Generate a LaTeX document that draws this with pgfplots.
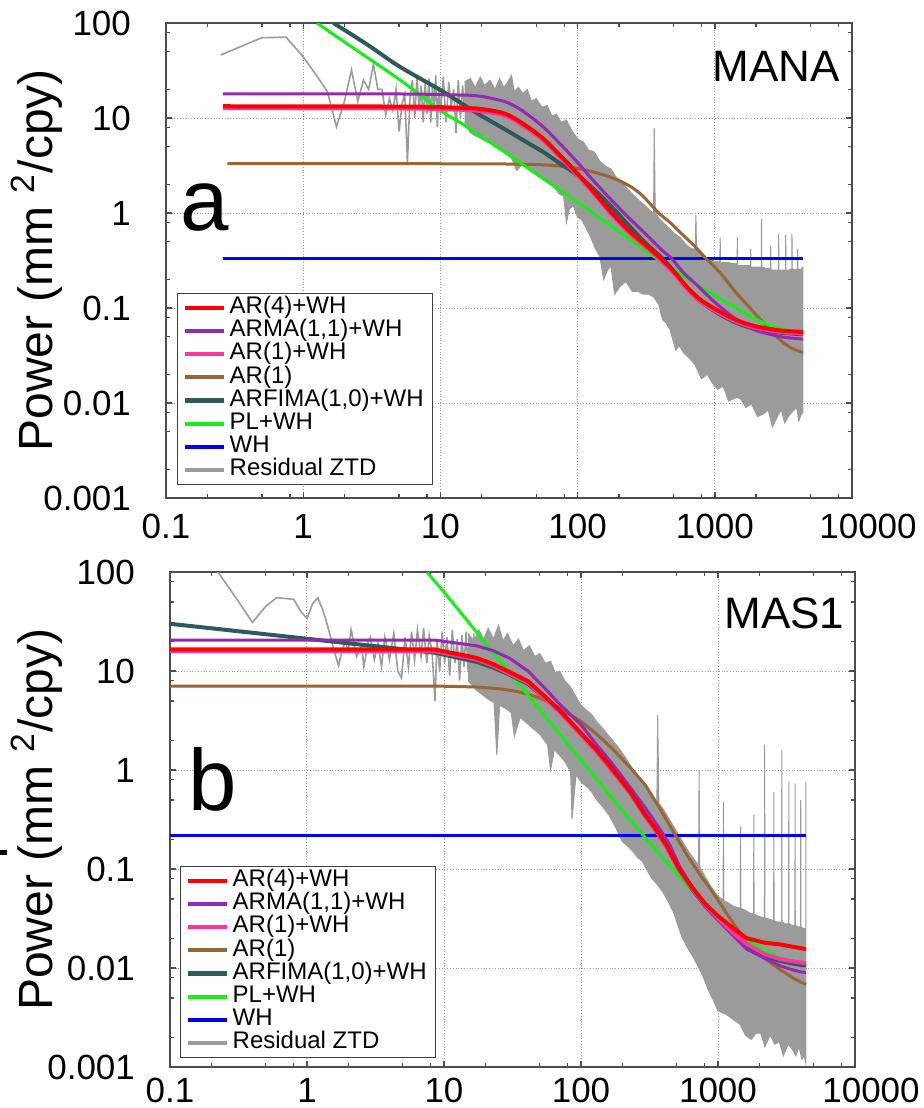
\documentclass[border=0pt]{standalone}
\usepackage{pgfplots}
\pgfplotsset{compat=1.18}
\usepackage{fontspec}
\setmainfont{Liberation Sans}
\definecolor{cRed}{RGB}{255,0,0}
\definecolor{cPurple}{RGB}{150,40,180}
\definecolor{cPink}{RGB}{255,55,155}
\definecolor{cBrown}{RGB}{153,102,51}
\definecolor{cSlate}{RGB}{47,90,90}
\definecolor{cGreen}{RGB}{20,240,20}
\definecolor{cBlue}{RGB}{0,0,240}
\definecolor{cGray}{RGB}{155,155,155}
\pgfplotsset{
  every axis/.append style={
    scale only axis,
    xmin=0.1, xmax=10000, ymin=0.001, ymax=100,
    xtick={0.1,1,10,100,1000,10000},
    xticklabels={0.1,1,10,100,1000,\hspace*{16pt}10000},
    ytick={0.001,0.01,0.1,1,10,100},
    yticklabels={0.001,0.01,0.1,1,10,100},
    minor xtick={0.2,0.5,0.8,2,5,8,20,50,80,200,500,800,2000,5000,8000},
    minor ytick={0.002,0.005,0.008,0.02,0.05,0.08,0.2,0.5,0.8,2,5,8,20,50,80},
    tick align=inside,
    major tick length=3.2pt, minor tick length=2pt,
    tick style={black!70, line width=0.7pt},
    axis line style={black!70, line width=1pt},
    grid=major,
    major grid style={densely dotted, black!40, line width=0.5pt},
    tick label style={font=\fontsize{17.5}{20}\selectfont},
    yticklabel style={xshift=-14pt},
    ylabel={Power (mm \textsuperscript{2}/cpy)},
    ylabel style={font=\fontsize{24}{28}\selectfont, anchor=base},
    legend cell align=left,
    legend image code/.code={\draw[#1, line width=2.1pt] (0pt,0pt) -- (19.5pt,0pt);},
    legend style={draw=black!75, line width=0.5pt, fill=white,
      inner xsep=2.5pt, inner ysep=1.5pt,
      font=\fontsize{12}{12.5}\selectfont,
      nodes={inner xsep=2pt, inner ysep=0.8pt, text height=7.9pt, text depth=2.1pt},
      row sep=0pt},
  },
}
\newcommand{\legendset}{%
  \addlegendimage{cRed}\addlegendentry{AR(4)+WH}
  \addlegendimage{cPurple}\addlegendentry{ARMA(1,1)+WH}
  \addlegendimage{cPink}\addlegendentry{AR(1)+WH}
  \addlegendimage{cBrown}\addlegendentry{AR(1)}
  \addlegendimage{cSlate}\addlegendentry{ARFIMA(1,0)+WH}
  \addlegendimage{cGreen}\addlegendentry{PL+WH}
  \addlegendimage{cBlue}\addlegendentry{WH}
  \addlegendimage{cGray}\addlegendentry{Residual ZTD}
}
\begin{document}
\begin{tikzpicture}
\useasboundingbox (0pt,0pt) rectangle (462pt,-554pt);
% ---------------- panel a : MANA ----------------
\begin{loglogaxis}[at={(83pt,-11.5pt)}, anchor=north west,
  width=343pt, height=237.5pt,
  xticklabel style={yshift=-4.5pt},
  ylabel style={at={(axis description cs:-0.165,0.5)}},
  legend style={at={(axis description cs:0.016,0.027)}, anchor=south west}]
\legendset
\addplot[cGray, line width=0.8pt, forget plot] coordinates {
(0.25,46)(0.5,70)(0.75,71)(1,44)(1.25,28)(1.5,19)(1.75,8.1)(2,15)(2.25,32)(2.5,15)
(2.75,25)(3,20)(3.25,37)(3.5,20)(3.75,20)(4,10.8)(4.25,16)(4.5,12)(4.75,20)(5,7.2)
(5.25,14)(5.5,18)(5.75,3.45)(6,16)(6.25,25)(6.5,10)(6.75,28)(7,12)(7.25,22)(7.5,9)
(7.75,24)(8,11)(8.25,26)(8.5,9)(8.75,22)(9,13)(9.25,28)(9.5,8)(9.75,20)(10,11)
(10.5,27)(11,9)(11.5,24)(12,13)(12.5,20)(13,7)(13.5,25)(14,10)(14.5,22)(15,12)
(15.5,24)(16,9)(16.5,23)(17,12)(17.5,21)};
\addplot[cGray, fill=cGray, line width=0.5pt, forget plot] coordinates {
(15,24)(16.5,26)(18,21)(19.5,27)(21,22)(23,25)(25,20)(27,26)(29,21)(31,24)(33,28)(34.5,19)
(37,21)(40,18)(43,20)(46,15)(50,16)(55,13)(60,13.5)(65,10.5)(70,11)(76,9)(83,9.5)(90,7.5)
(100,6)(110,5.6)(120,4.6)(132,4.4)(145,3.5)(160,3.1)(175,2.9)(190,2.4)(210,2.1)(230,1.8)
(255,1.55)(280,1.35)(310,1.2)(340,1.05)(358,1.0)(362,7.8)(368,1.0)(400,0.85)(450,0.72)
(500,0.62)(560,0.55)(620,0.46)(680,0.42)(722,0.42)(728,0.95)(736,0.4)(800,0.36)(900,0.33)
(1000,0.31)(1088,0.31)(1094,0.55)(1102,0.3)(1250,0.3)(1454,0.29)(1460,0.55)(1468,0.28)
(1700,0.28)(1820,0.28)(1826,0.42)(1834,0.27)(2000,0.27)(2184,0.27)(2190,0.87)(2200,0.27)
(2400,0.26)(2550,0.26)(2556,0.45)(2566,0.25)(2750,0.25)(2915,0.25)(2921,0.6)(2932,0.25)
(3100,0.25)(3280,0.25)(3286,0.59)(3298,0.25)(3450,0.25)(3645,0.26)(3652,0.6)(3665,0.26)
(3850,0.25)(4010,0.26)(4017,0.42)(4030,0.26)(4200,0.25)(4383,0.27)
(4383,0.008)(4250,0.0075)(4100,0.0065)(3950,0.009)(3800,0.0085)(3500,0.0075)(3230,0.0062)
(3050,0.0085)(2900,0.0075)(2630,0.0056)(2450,0.0085)(2300,0.0078)(2050,0.0072)(1850,0.0098)
(1680,0.009)(1550,0.011)(1450,0.0115)(1260,0.0105)(1150,0.015)(1050,0.014)(980,0.0155)
(880,0.02)(800,0.018)(720,0.025)(650,0.03)(600,0.033)(550,0.04)(520,0.036)(470,0.06)
(440,0.07)(417,0.075)(390,0.11)(359,0.13)(330,0.14)(300,0.14)(275,0.15)(250,0.15)
(225,0.19)(205,0.17)(186,0.14)(175,0.28)(165,0.25)(155,0.2)(145,0.35)(135,0.42)(125,0.55)
(115,0.7)(107,0.85)(100,0.9)(93,1.2)(87,1.1)(83,0.8)(79,1.5)(73,1.6)(67,1.9)(62,2.1)
(56,2.4)(50,2.6)(45,3.0)(40,3.3)(36,2.8)(33,3.8)(30,4.2)(27,4.8)(24,5.3)(21,5.8)(18,6.5)
(16.5,7)(15,9)};
\addplot[cBlue, line width=1.5pt, forget plot] coordinates {(0.26,0.336)(4383,0.336)};
\addplot[cBrown, line width=1.5pt, smooth, forget plot] coordinates {
(0.28,3.3)(10,3.3)(30,3.28)(60,3.2)(100,2.95)(150,2.55)(200,2.2)(250,1.85)(300,1.5)
(390,1.0)(470,0.8)(556,0.63)(700,0.46)(850,0.34)(1000,0.27)(1200,0.2)(1400,0.15)
(1700,0.11)(2000,0.085)(2500,0.06)(3000,0.046)(3600,0.038)(4383,0.034)};
\addplot[cGreen, line width=1.5pt, smooth, forget plot] coordinates {
(1.26,100)(2,63)(5,25.5)(10,12)(14,8.9)(20,6.3)(30,4.3)(41,3.15)(60,2.15)(100,1.3)
(178,0.72)(260,0.49)(372,0.336)(500,0.255)(740,0.175)(1000,0.135)(1740,0.085)
(2500,0.066)(4383,0.052)};
\addplot[cSlate, line width=2pt, smooth, forget plot] coordinates {
(1.66,100)(3,58)(5,35)(10,19.7)(14,14.5)(20,10.5)(31,7.3)(45,5.3)(56,4.4)(75,3.3)
(100,2.5)(130,1.8)(178,1.15)(240,0.72)(314,0.48)(417,0.33)(520,0.23)(630,0.16)
(800,0.115)(1130,0.083)(1500,0.068)(2000,0.06)(3000,0.055)(4383,0.053)};
\addplot[cPurple, line width=1.5pt, smooth, forget plot] coordinates {
(0.26,17.9)(5,17.9)(10,17.6)(18,17.2)(25,15.8)(31,14.5)(40,11.8)(56,8.1)(75,5.3)
(100,3.4)(130,2.2)(178,1.35)(240,0.87)(314,0.6)(417,0.4)(480,0.336)(600,0.23)
(740,0.175)(1000,0.115)(1500,0.072)(2000,0.058)(3000,0.05)(4383,0.047)};
\addplot[cPink, line width=2pt, smooth, forget plot] coordinates {
(0.26,12.7)(5,12.6)(10,12.4)(18,12.0)(25,11.2)(31,10.3)(40,8.3)(56,5.85)(75,3.85)
(100,2.5)(130,1.63)(178,0.96)(240,0.61)(314,0.44)(417,0.305)(520,0.22)(630,0.158)
(800,0.115)(1130,0.085)(1500,0.07)(2000,0.062)(3000,0.056)(4383,0.054)};
\addplot[cRed, line width=2pt, smooth, forget plot] coordinates {
(0.26,13.3)(5,13.2)(10,13.0)(18,12.6)(25,11.8)(31,10.8)(40,8.7)(56,6.1)(75,4.0)
(100,2.6)(130,1.7)(178,1.0)(240,0.64)(314,0.46)(417,0.32)(520,0.23)(630,0.165)
(800,0.12)(1130,0.089)(1500,0.073)(2000,0.064)(3000,0.058)(4383,0.056)};
\node[anchor=base west, inner sep=0pt, font=\fontsize{43.5}{50}\selectfont] at (axis description cs:0.0204,0.564) {a};
\node[anchor=base east, inner sep=0pt, font=\fontsize{22}{26}\selectfont] at (axis description cs:0.9825,0.876) {MANA};
\end{loglogaxis}
% ---------------- panel b : MAS1 ----------------
\begin{loglogaxis}[at={(85pt,-286pt)}, anchor=north west,
  width=342.5pt, height=247.5pt,
  xticklabel style={yshift=-2pt},
  ylabel style={at={(axis description cs:-0.171,0.5)}},
  legend style={at={(axis description cs:0.0146,0.018)}, anchor=south west}]
\legendset
\addplot[cGray, line width=0.8pt, forget plot] coordinates {
(0.1,500)(0.2,125)(0.3,56)(0.4,31)(0.5,45)(0.6,55)(0.7,54)(0.8,53)(0.9,40)(1,34)
(1.1,48)(1.2,55)(1.3,42)(1.4,30)(1.5,21)(1.6,15)(1.7,11.3)(1.8,16)(1.9,20)(2.0,16)
(2.1,26)(2.3,14)(2.5,18)(2.6,11)(2.8,20)(2.9,22)(3.1,13)(3.3,19)(3.5,11)(3.7,22)
(4.0,13)(4.3,24)(4.6,10)(4.9,8.5)(5.2,22)(5.5,11)(5.8,25)(6.1,13)(6.4,26)(6.8,14)
(7.1,27)(7.5,12)(7.8,23)(8.2,15)(8.6,5.0)(8.9,21)(9.3,10)(9.7,25)(10.1,12)(10.5,22)
(11,9)(11.5,26)(12,12)(12.5,21)(13,8)(13.5,23)(14,11)(14.5,25)(15,10)(15.5,22)(16,13)
(16.5,24)(17,9)(17.5,21)};
\addplot[cGray, fill=cGray, line width=0.5pt, forget plot] coordinates {
(15,24)(16.5,20)(18,26)(19.5,21)(21,27)(23,21)(25,29)(27,20)(29,24)(32,18)(35,21)(38,16)
(42,18)(46,14)(50,15)(55,12)(60,12.5)(65,9.5)(70,10)(76,8)(83,7)(90,5.8)(100,4.5)
(110,4.0)(120,3.6)(132,3.0)(145,2.6)(160,2.2)(175,1.9)(190,1.65)(210,1.35)(230,1.1)
(255,0.9)(280,0.75)(310,0.6)(340,0.52)(358,0.48)(363,3.6)(370,0.46)(400,0.4)(440,0.32)
(490,0.25)(550,0.19)(610,0.15)(670,0.125)(722,0.11)(728,1.0)(736,0.105)(800,0.085)
(880,0.068)(950,0.058)(1020,0.052)(1090,0.049)(1095,0.48)(1102,0.048)(1200,0.045)
(1300,0.042)(1455,0.04)(1461,0.27)(1470,0.04)(1600,0.038)(1700,0.036)(1820,0.035)
(1826,0.35)(1834,0.035)(2000,0.033)(2184,0.032)(2190,1.8)(2200,0.032)(2400,0.031)
(2550,0.03)(2556,0.6)(2566,0.03)(2750,0.029)(2915,0.029)(2921,1.6)(2932,0.029)
(3100,0.028)(3280,0.028)(3286,0.76)(3298,0.028)(3450,0.027)(3645,0.027)(3652,0.73)
(3665,0.027)(3850,0.026)(4010,0.026)(4017,0.5)(4030,0.026)(4200,0.025)(4376,0.025)(4383,0.76)
(4383,0.0011)(4250,0.0013)(4100,0.0012)(3900,0.0016)(3700,0.0013)(3500,0.0015)
(3250,0.0017)(3000,0.0013)(2800,0.0018)(2600,0.0017)(2400,0.0021)(2200,0.0016)
(2050,0.0022)(1900,0.0022)(1750,0.0019)(1585,0.0021)(1450,0.0027)(1300,0.003)
(1150,0.0034)(1000,0.0037)(920,0.0048)(850,0.006)(770,0.0085)(700,0.011)(668,0.0125)
(600,0.016)(550,0.02)(510,0.027)(480,0.035)(440,0.045)(398,0.058)(360,0.07)(330,0.08)
(300,0.1)(280,0.12)(260,0.13)(240,0.15)(220,0.17)(200,0.19)(180,0.26)(160,0.35)
(145,0.42)(130,0.5)(120,0.6)(110,0.68)(100,0.76)(92,0.9)(86,0.32)(84,0.95)(77,1.2)
(70,1.4)(64,1.6)(60,1.0)(57,1.8)(50,2.3)(45,2.6)(40,3.0)(36,3.4)(32.6,2.2)(31,3.8)
(28,4.2)(25.5,4.5)(24.3,1.42)(23.2,4.8)(21,5.2)(19,5.8)(17,6.5)(15,8)};
\addplot[cBlue, line width=1.5pt, forget plot] coordinates {(0.1,0.22)(4383,0.22)};
\addplot[cBrown, line width=1.5pt, forget plot] coordinates {
(0.1,7.05)(8.6,7.05)(17.2,6.9)(25.8,6.6)(34.4,6.2)(45.8,5.57)(60,4.8)(72,4.07)(100,3.1)
(130,2.3)(168,1.66)(230,1.05)(296,0.70)(380,0.40)(479,0.23)(600,0.135)(750,0.085)
(918,0.058)(1200,0.033)(1620,0.018)(2200,0.0125)(2850,0.0096)(3600,0.0078)(4383,0.0068)};
\addplot[cGreen, line width=1.5pt, forget plot] coordinates {
(7.5,100)(10,62.6)(15,31.4)(20,19.3)(30,9.7)(50,4.07)(70,2.3)(100,1.26)(150,0.636)
(200,0.392)(280,0.225)(400,0.127)(521,0.084)(700,0.054)(1000,0.0334)(1500,0.0205)
(2140,0.0153)(3000,0.0122)(4383,0.0105)};
\addplot[cSlate, line width=2pt, forget plot] coordinates {
(0.1,30)(8.6,15.3)(17.2,12.4)(23,10.8)(30,9.2)(41,7.4)(54,5.4)(70,3.9)(100,2.3)
(130,1.55)(168,1.0)(230,0.58)(296,0.34)(341,0.26)(420,0.17)(521,0.098)(650,0.062)
(800,0.043)(1000,0.031)(1300,0.0215)(1620,0.0165)(2200,0.013)(2850,0.0118)(3600,0.011)
(4383,0.0106)};
\addplot[cPurple, line width=1.5pt, forget plot] coordinates {
(0.1,20.5)(8.6,20.5)(17.2,18)(23,16)(30,13.5)(41,10)(54,6.8)(70,4.6)(100,2.87)
(130,1.8)(168,1.17)(230,0.66)(296,0.41)(372,0.26)(450,0.17)(521,0.108)(650,0.065)
(800,0.042)(1000,0.031)(1300,0.021)(1620,0.0155)(2200,0.0125)(2850,0.0105)(3600,0.0095)
(4383,0.0089)};
\addplot[cPink, line width=2pt, forget plot] coordinates {
(0.1,15.9)(8.6,15.9)(17.2,13.1)(23,11.3)(30,9.4)(41,7.6)(54,5.4)(70,3.85)(100,2.28)
(130,1.54)(168,1.0)(230,0.58)(296,0.34)(341,0.26)(420,0.17)(521,0.097)(650,0.063)
(800,0.044)(1000,0.032)(1300,0.0225)(1620,0.0175)(2200,0.0138)(2850,0.0123)(3600,0.0116)
(4383,0.0112)};
\addplot[cRed, line width=2pt, forget plot] coordinates {
(0.1,16.5)(8.6,16.5)(17.2,13.6)(23,11.7)(30,9.8)(41,7.9)(54,5.6)(70,4.0)(100,2.36)
(130,1.6)(168,1.04)(230,0.6)(296,0.35)(341,0.27)(420,0.175)(521,0.10)(650,0.065)
(800,0.045)(1000,0.0335)(1300,0.025)(1620,0.020)(2200,0.018)(2850,0.0173)(3600,0.0163)
(4383,0.0155)};
\node[anchor=base west, inner sep=0pt, font=\fontsize{43.5}{50}\selectfont] at (axis description cs:0.026,0.519) {b};
\node[anchor=base east, inner sep=0pt, font=\fontsize{22}{26}\selectfont] at (axis description cs:0.985,0.885) {MAS1};
\end{loglogaxis}
\fill[black] (0pt,-425pt) rectangle (3.5pt,-427.5pt);
\end{tikzpicture}
\end{document}
